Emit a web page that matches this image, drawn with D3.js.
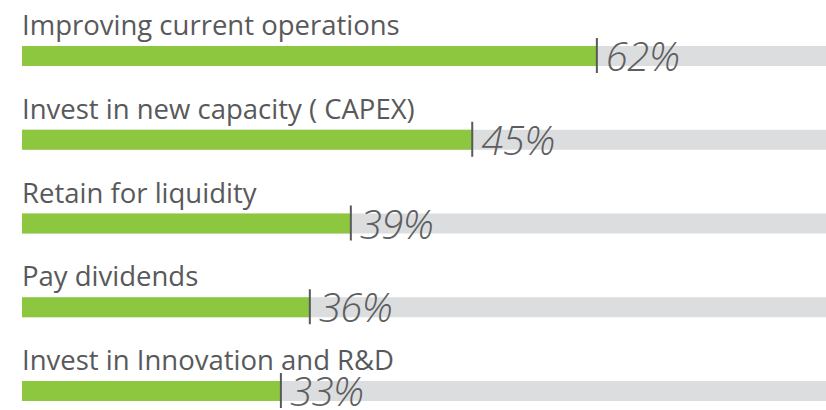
<!DOCTYPE html>
<html>
<head>
<meta charset="utf-8">
<script src="https://cdn.jsdelivr.net/npm/d3@7"></script>
<style>
  body { margin: 0; background: #fff; }
  svg { display: block; }
  .label { font-family: "Open Sans", sans-serif; fill: #58595b; }
  .pct { font-family: "Open Sans", sans-serif; font-style: italic; font-weight: 300; fill: #5d5e60; }
</style>
</head>
<body>
<div id="chart"></div>
<script>
var width = 826;
var height = 410;

// answers, top to bottom
var categories = [
  "Improving current operations",
  "Invest in new capacity ( CAPEX)",
  "Retain for liquidity",
  "Pay dividends",
  "Invest in Innovation and R&D"
];
// printed share of respondents
var values = [62, 45, 39, 36, 33];
// where the green bar actually stops, as % of the grey track
var barEnds = [71.5, 56, 40.9, 35.8, 32.2];

var svg = d3.select("#chart")
  .append("svg")
  .attr("width", width)
  .attr("height", height);

var x = d3.scaleLinear().domain([0, 100]).range([22, width]);
var y = d3.scalePoint().domain(categories).range([46, 381]);
var barH = 20;

var rows = svg.selectAll(".row")
  .data(categories)
  .enter().append("g")
  .attr("class", "row")
  .attr("transform", function(d) { return "translate(0," + y(d) + ")"; });

// grey track
rows.append("rect")
  .attr("x", x(0))
  .attr("y", 0)
  .attr("width", x(100) - x(0))
  .attr("height", barH)
  .attr("fill", "#dcdddf");

// green bar
rows.append("rect")
  .attr("x", x(0))
  .attr("y", 0)
  .attr("width", function(d, i) { return x(barEnds[i]) - x(0); })
  .attr("height", barH)
  .attr("fill", "#8dc63f");

// marker tick at end of bar
rows.append("line")
  .attr("x1", function(d, i) { return x(barEnds[i]); })
  .attr("x2", function(d, i) { return x(barEnds[i]); })
  .attr("y1", -8)
  .attr("y2", barH + 7)
  .attr("stroke", "#58595b")
  .attr("stroke-width", 2);

// category label
rows.append("text")
  .attr("class", "label")
  .attr("x", x(0))
  .attr("y", -11)
  .style("font-size", "27.5px")
  .text(function(d) { return d; });

// value label
rows.append("text")
  .attr("class", "pct")
  .attr("x", function(d, i) { return x(barEnds[i]) + 9; })
  .attr("y", barH + 5)
  .style("font-size", "40px")
  .style("letter-spacing", "-0.5px")
  .text(function(d, i) { return values[i] + "%"; });
</script>
</body>
</html>
